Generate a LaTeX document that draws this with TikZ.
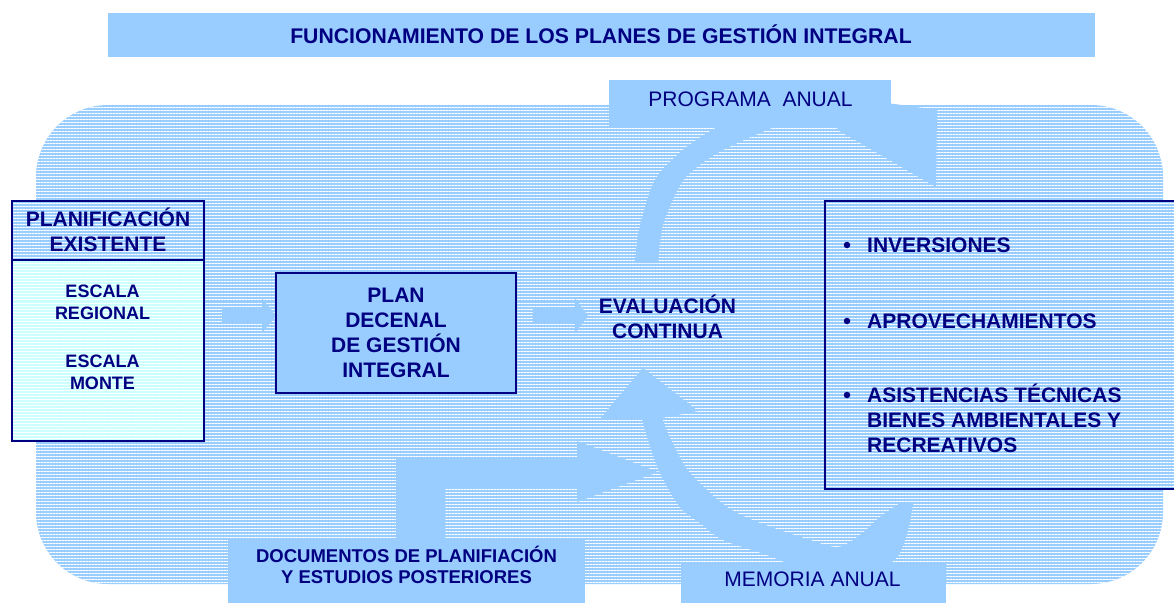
\documentclass[tikz,border=0pt]{standalone}
\usepackage{fontspec}
\setmainfont{Liberation Sans}
\usetikzlibrary{patterns.meta}
\definecolor{lb}{HTML}{99CCFF}
\definecolor{lc}{HTML}{CCFFFF}
\definecolor{navy}{HTML}{000080}
\tikzset{
  striped/.style={fill=#1, postaction={pattern={Lines[angle=0,distance=3pt,line width=1pt]}, pattern color=white}},
  framed/.style={draw=navy, line width=1.8pt},
  boldtxt/.style={text=navy, font=\bfseries\fontsize{21}{25}\selectfont, align=center, inner sep=0pt, anchor=base},
  smalltxt/.style={text=navy, font=\bfseries\fontsize{18}{22}\selectfont, align=center, inner sep=0pt, anchor=base},
  regtxt/.style={text=navy, font=\fontsize{21}{25}\selectfont, inner sep=0pt, anchor=base},
  bullettxt/.style={text=navy, font=\bfseries\fontsize{21}{25}\selectfont, align=left, inner sep=0pt, anchor=base west},
  bulletdot/.style={circle, fill=navy, draw=none, minimum size=6.5pt, inner sep=0pt},
  blockarrow/.style={fill=lb, draw=none},
}
\begin{document}
\begin{tikzpicture}[x=1pt,y=-1pt]
\useasboundingbox (0,0) rectangle (1174,603);

% title
\path[fill=lb] (108,13) rectangle (1095,57);
\node[boldtxt, font=\bfseries\fontsize{21.2}{25}\selectfont] (title) at (601,43) {FUNCIONAMIENTO DE LOS PLANES DE GESTIÓN INTEGRAL};

% striped rounded background
\path[striped=lb, rounded corners=72pt] (36,105) rectangle (1163,584);

% upper curved arrow (programa anual)
\path[blockarrow] plot[smooth, tension=0.5] coordinates {(635,263) (639,230) (655,180) (683,150) (712,130) (750,110) (800,100) (860,100) (937,110)}
  -- (936,187) -- (836,129) -- (850,124)
  -- plot[smooth, tension=0.5] coordinates {(850,124) (805,117) (767,130) (723,150) (697,167) (680,185) (663,225) (658,263)} -- cycle;

% lower curved arrow (memoria anual)
\path[blockarrow] plot[smooth, tension=0.5] coordinates {(913,503) (908,530) (897,557) (870,575) (820,575) (767,555) (723,540) (700,523) (680,507) (660,473) (648,440) (642,419)}
  -- (600,419) -- (643,368) -- (698,411) -- (662,418)
  -- plot[smooth, tension=0.5] coordinates {(662,418) (671,440) (690,473) (727,507) (760,523) (810,540) (838,547) (860,535) (880,517) (900,503)} -- cycle;

% boxes of the cycle
\path[fill=lb] (609,80) rectangle (891,127);
\node[regtxt] (prog) at (750.5,106) {PROGRAMA\ \ ANUAL};

\path[fill=lb] (681,562) rectangle (946,603);
\node[regtxt] (mem) at (812.5,586) {MEMORIA ANUAL};

% documentos box and bent arrow
\path[fill=lb] (228,540) rectangle (585,603);
\path[blockarrow] (396,541) -- (396,458) -- (577,458) -- (577,441) -- (658,472) -- (577,502) -- (577,487) -- (445,487) -- (445,541) -- cycle;
\node[smalltxt, font=\bfseries\fontsize{18.5}{21}\selectfont] (docs) at (406.5,583) {DOCUMENTOS DE PLANIFIACIÓN\\Y ESTUDIOS POSTERIORES};

% small block arrows
\path[blockarrow] (222,308) -- (262,308) -- (262,298) -- (276,316) -- (262,333) -- (262,323) -- (222,323) -- cycle;
\path[blockarrow] (533,308) -- (575,308) -- (575,298) -- (588,316) -- (575,333) -- (575,323) -- (533,323) -- cycle;

% right box
\path[striped=lb] (825,201) rectangle (1180,489);
\draw[framed] (1180,201) -- (825,201) -- (825,489) -- (1180,489);
\node[bulletdot] (b1) at (847,245) {};
\node[bullettxt] (inv) at (867,252) {INVERSIONES};
\node[bulletdot] (b2) at (847,321) {};
\node[bullettxt] (apr) at (867,328) {APROVECHAMIENTOS};
\node[bulletdot] (b3) at (847,395) {};
\node[bullettxt] (asi) at (867,452) {ASISTENCIAS TÉCNICAS\\BIENES AMBIENTALES Y\\RECREATIVOS};

% plan decenal
\path[fill=lb, framed] (276,273) rectangle (516,393);
\node[boldtxt, font=\bfseries\fontsize{21}{24.7}\selectfont] (plan) at (396,377) {PLAN\\DECENAL\\DE GESTIÓN\\INTEGRAL};

% evaluacion
\node[boldtxt] (eval) at (667.5,338) {EVALUACIÓN\\CONTINUA};

% planificacion existente
\path[striped=lb] (12,201) rectangle (204,260);
\path[striped=lc] (12,260) rectangle (204,441);
\draw[framed] (12,201) rectangle (204,441);
\draw[framed] (12,260) -- (204,260);
\node[boldtxt] (planif) at (108,251) {PLANIFICACIÓN\\EXISTENTE};
\node[smalltxt] (reg) at (102.5,319) {ESCALA\\REGIONAL};
\node[smalltxt] (mon) at (102.5,389) {ESCALA\\MONTE};
\end{tikzpicture}
\end{document}
